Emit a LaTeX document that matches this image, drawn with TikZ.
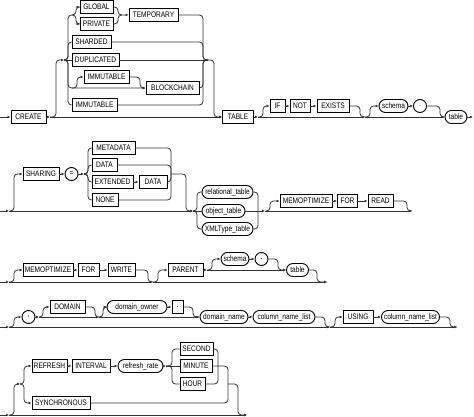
\documentclass[tikz,border=0pt]{standalone}
\usepackage{fontspec}
\setmainfont{Liberation Sans}[FakeStretch=0.82]
\usetikzlibrary{arrows.meta}
\definecolor{railc}{RGB}{50,50,50}
\begin{document}
\begin{tikzpicture}[x=1pt,y=-1pt,
  kw/.style={draw=black,line width=0.95pt,rectangle,minimum height=13pt,inner sep=0pt,font=\fontsize{8}{9}\selectfont,fill=white},
  nt/.style={kw,rounded corners=6.5pt},
  pc/.style={draw=black,line width=0.95pt,circle,minimum size=13pt,inner sep=0pt,font=\fontsize{8}{9}\selectfont,fill=white},
  rail/.style={draw=railc,line width=0.8pt,rounded corners=3.5pt},
  ra/.style={-{Latex[length=3pt,width=2.8pt]}}]
\useasboundingbox (0,0) rectangle (474,417);

% ---------------- Row 1 ----------------
\node[kw,minimum width=35pt] (create) at (28.5,117) {CREATE};
\node[kw,minimum width=31pt] (tbl) at (238,117) {TABLE};
\node[kw,minimum width=33pt] (global) at (96.5,7) {GLOBAL};
\node[kw,minimum width=33pt] (private) at (96.5,24) {PRIVATE};
\node[kw,minimum width=49pt] (temporary) at (153.5,15) {TEMPORARY};
\node[kw,minimum width=39pt] (sharded) at (91.5,42) {SHARDED};
\node[kw,minimum width=47pt] (duplicated) at (95.5,60) {DUPLICATED};
\node[kw,minimum width=45pt] (immuta) at (106.5,77) {IMMUTABLE};
\node[kw,minimum width=53pt] (blockchain) at (172.5,88) {BLOCKCHAIN};
\node[kw,minimum width=45pt] (immutb) at (94.5,105) {IMMUTABLE};
\node[kw,minimum width=15pt] (ifk) at (277.5,106) {IF};
\node[kw,minimum width=20pt] (notk) at (300,106) {NOT};
\node[kw,minimum width=32pt] (existsk) at (333,106) {EXISTS};
\node[nt,minimum width=29pt] (schemaa) at (393.5,106) {schema};
\node[pc] (dota) at (420,106) {.};
\node[nt,minimum width=22pt] (tablea) at (456,117) {table};

\coordinate (a0) at (0,117);
\coordinate (a1) at (50,117);
\coordinate (a2) at (64,60);
\coordinate (a3) at (208,60);
\coordinate (a4) at (258,117);
\coordinate (a5) at (365,117);
\coordinate (a6) at (473,117);

\draw[rail,ra] (a0) -- (create.west);
\draw[rail,ra] (create.east) -- (a1);
\draw[rail,ra] (a1) -- (tbl.west);
\draw[rail,ra] (a1) -| (56,60) -- (a2);
\draw[rail] (a2) -- (duplicated.west);
\draw[rail,ra] (a2) -| (68,15) -| (76,7) -- (global.west);
\draw[rail,ra] (72,15) -| (76,24) -- (private.west);
\draw[rail,ra] (global.east) -| (118,15) -- (temporary.west);
\draw[rail] (private.east) -| (118,15) -- (122,15);
\draw[rail] (a2) -| (68,42) -- (sharded.west);
\draw[rail] (a2) -| (68,105) -- (immutb.west);
\draw[rail,ra] (a2) -| (68,88) -- (blockchain.west);
\draw[rail,ra] (72,88) -| (77,77) -- (immuta.west);
\draw[rail,ra] (immuta.east) -| (140,88) -- (blockchain.west);
\draw[rail] (temporary.east) -| (203,60) -- (a3);
\draw[rail] (sharded.east) -| (203,60) -- (a3);
\draw[rail] (blockchain.east) -| (203,60) -- (a3);
\draw[rail] (immutb.east) -| (203,60) -- (a3);
\draw[rail] (duplicated.east) -- (a3);
\draw[rail,ra] (a3) -| (214,117) -- (tbl.west);

\draw[rail,ra] (tbl.east) -- (a4);
\draw[rail,ra] (a4) -| (263,106) -- (ifk.west);
\draw[rail,ra] (ifk.east) -- (notk.west);
\draw[rail,ra] (notk.east) -- (existsk.west);
\draw[rail] (existsk.east) -| (360,117) -- (a5);
\draw[rail,ra] (a4) -- (a5);
\draw[rail,ra] (a5) -| (370,106) -- (schemaa.west);
\draw[rail,ra] (schemaa.east) -- (dota.west);
\draw[rail,ra] (dota.east) -| (440,117) -- (tablea.west);
\draw[rail,ra] (a5) -- (tablea.west);
\draw[rail,ra] (tablea.east) -- (a6);

% ---------------- Row 2 ----------------
\node[kw,minimum width=36pt] (sharing) at (41,174) {SHARING};
\node[pc] (eq) at (71.5,174) {=};
\node[kw,minimum width=43pt] (metadata) at (113.5,148) {METADATA};
\node[kw,minimum width=25pt] (dataa) at (104.5,165) {DATA};
\node[kw,minimum width=41pt] (extended) at (112.5,182) {EXTENDED};
\node[kw,minimum width=28pt] (datab) at (153,182) {DATA};
\node[kw,minimum width=26pt] (none) at (105,200) {NONE};
\node[nt,minimum width=51pt] (reltab) at (227.5,192) {relational\_table};
\node[nt,minimum width=43pt] (objtab) at (223.5,211) {object\_table};
\node[nt,minimum width=51pt] (xmltab) at (227.5,229) {XMLType\_table};
\node[kw,minimum width=52pt] (memoa) at (306,201) {MEMOPTIMIZE};
\node[kw,minimum width=20pt] (fora) at (347.5,201) {FOR};
\node[kw,minimum width=25pt] (read) at (380.5,201) {READ};

\coordinate (b0) at (0,211);
\coordinate (b1) at (9,211);
\coordinate (b2) at (84,174);
\coordinate (b3) at (171,174);
\coordinate (b4) at (193,211);
\coordinate (b5) at (265,211);
\coordinate (b6) at (412,211);

\draw[rail,ra] (b0) -- (b1);
\draw[rail,ra] (b1) -- (b4);
\draw[rail,ra] (b1) -| (14,174) -- (sharing.west);
\draw[rail,ra] (sharing.east) -- (eq.west);
\draw[rail,ra] (eq.east) -- (b2);
\draw[rail] (b2) -| (88,148) -- (metadata.west);
\draw[rail] (b2) -| (88,165) -- (dataa.west);
\draw[rail] (b2) -| (88,182) -- (extended.west);
\draw[rail] (b2) -| (88,200) -- (none.west);
\draw[rail,ra] (extended.east) -- (datab.west);
\draw[rail] (metadata.east) -| (b3);
\draw[rail] (dataa.east) -| (b3);
\draw[rail] (datab.east) -| (b3);
\draw[rail] (none.east) -| (b3);
\draw[rail,ra] (b3) -| (186,211) -- (b4);
\draw[rail] (b4) -- (objtab.west);
\draw[rail] (b4) -| (197,192) -- (reltab.west);
\draw[rail] (b4) -| (197,229) -- (xmltab.west);
\draw[rail] (reltab.east) -| (258,211);
\draw[rail] (xmltab.east) -| (258,211);
\draw[rail,ra] (objtab.east) -- (b5);
\draw[rail,ra] (b5) -| (270,201) -- (memoa.west);
\draw[rail,ra] (memoa.east) -- (fora.west);
\draw[rail,ra] (fora.east) -- (read.west);
\draw[rail] (read.east) -| (407,211) -- (b6);
\draw[rail,ra] (b5) -- (b6);

% ---------------- Row 3 ----------------
\node[kw,minimum width=50pt] (memob) at (48,270) {MEMOPTIMIZE};
\node[kw,minimum width=21pt] (forb) at (88.5,270) {FOR};
\node[kw,minimum width=27pt] (write) at (121.5,270) {WRITE};
\node[kw,minimum width=35pt] (parent) at (185.5,270) {PARENT};
\node[nt,minimum width=28pt] (schemab) at (235,259) {schema};
\node[pc] (dotb) at (261.5,259) {.};
\node[nt,minimum width=22pt] (tableb) at (297.5,270) {table};

\coordinate (c0) at (0,282);
\coordinate (c1) at (9,282);
\coordinate (c2) at (153,282);
\coordinate (c3) at (207,270);
\coordinate (c4) at (327,282);

\draw[rail,ra] (c0) -- (c1);
\draw[rail,ra] (c1) -| (14,270) -- (memob.west);
\draw[rail,ra] (memob.east) -- (forb.west);
\draw[rail,ra] (forb.east) -- (write.west);
\draw[rail] (write.east) -| (148,282) -- (c2);
\draw[rail,ra] (c1) -- (c2);
\draw[rail,ra] (c2) -| (158,270) -- (parent.west);
\draw[rail,ra] (parent.east) -- (c3);
\draw[rail,ra] (c3) -| (212,259) -- (schemab.west);
\draw[rail,ra] (schemab.east) -- (dotb.west);
\draw[rail,ra] (dotb.east) -| (278,270) -- (tableb.west);
\draw[rail,ra] (c3) -- (tableb.west);
\draw[rail] (tableb.east) -| (317,282) -- (c4);
\draw[rail,ra] (c2) -- (c4);

% ---------------- Row 4 ----------------
\node[pc] (comma) at (28.5,317) {,};
\node[kw,minimum width=35pt] (domain) at (67.5,307) {DOMAIN};
\node[nt,minimum width=60pt] (downer) at (137,307) {domain\_owner};
\node[kw,minimum width=11pt] (dotc) at (177.5,307) {.};
\node[nt,minimum width=48pt] (dname) at (224,317) {domain\_name};
\node[nt,minimum width=62pt] (cnla) at (284,317) {column\_name\_list};
\node[kw,minimum width=30pt] (using) at (358,317) {USING};
\node[nt,minimum width=58pt] (cnlb) at (410.5,317) {column\_name\_list};

\coordinate (d0) at (0,327);
\coordinate (d1) at (9,327);
\coordinate (d2) at (39,317);
\coordinate (d3) at (99,317);
\coordinate (d4) at (330,327);
\coordinate (d5) at (457,327);

\draw[rail,ra] (d0) -- (d1);
\draw[rail,ra] (d1) -| (14,317) -- (comma.west);
\draw[rail,ra] (comma.east) -- (d2);
\draw[rail,ra] (d2) -| (43,307) -- (domain.west);
\draw[rail] (domain.east) -| (95,317) -- (d3);
\draw[rail,ra] (d2) -- (d3);
\draw[rail,ra] (d3) -| (103,307) -- (downer.west);
\draw[rail,ra] (downer.east) -- (dotc.west);
\draw[rail,ra] (dotc.east) -| (193,317) -- (dname.west);
\draw[rail,ra] (d3) -- (dname.west);
\draw[rail,ra] (dname.east) -- (cnla.west);
\draw[rail] (cnla.east) -| (325,327) -- (d4);
\draw[rail,ra] (d1) -- (d4);
\draw[rail,ra] (d4) -| (335,317) -- (using.west);
\draw[rail,ra] (using.east) -- (cnlb.west);
\draw[rail] (cnlb.east) -| (450,327) -- (d5);
\draw[rail,ra] (d4) -- (d5);

% ---------------- Row 5 ----------------
\node[kw,minimum width=35pt] (refresh) at (49.5,366) {REFRESH};
\node[kw,minimum width=38pt] (interval) at (91,366) {INTERVAL};
\node[nt,minimum width=45pt] (rrate) at (140.5,366) {refresh\_rate};
\node[kw,minimum width=33pt] (second) at (196.5,349) {SECOND};
\node[kw,minimum width=32pt] (minute) at (196,366) {MINUTE};
\node[kw,minimum width=25pt] (hour) at (192.5,384) {HOUR};
\node[kw,minimum width=58pt] (sync) at (61,403) {SYNCHRONOUS};

\coordinate (e0) at (0,415);
\coordinate (e1) at (9,415);
\coordinate (e2) at (20,384);
\coordinate (e3) at (166,366);
\coordinate (e4) at (228,384);
\coordinate (e5) at (247,415);

\draw[rail,ra] (e0) -- (e1);
\draw[rail,ra] (e1) -| (14,384) -- (e2);
\draw[rail,ra] (e2) -| (24,366) -- (refresh.west);
\draw[rail,ra] (e2) -| (24,403) -- (sync.west);
\draw[rail,ra] (refresh.east) -- (interval.west);
\draw[rail,ra] (interval.east) -- (rrate.west);
\draw[rail,ra] (rrate.east) -- (e3);
\draw[rail] (e3) -- (minute.west);
\draw[rail] (e3) -| (172,349) -- (second.west);
\draw[rail] (e3) -| (172,384) -- (hour.west);
\draw[rail] (second.east) -| (218,366);
\draw[rail] (hour.east) -| (218,366);
\draw[rail] (minute.east) -| (e4);
\draw[rail] (sync.east) -| (e4);
\draw[rail,ra] (e4) -| (238,415) -- (e5);
\draw[rail,ra] (e1) -- (e5);
\end{tikzpicture}
\end{document}
